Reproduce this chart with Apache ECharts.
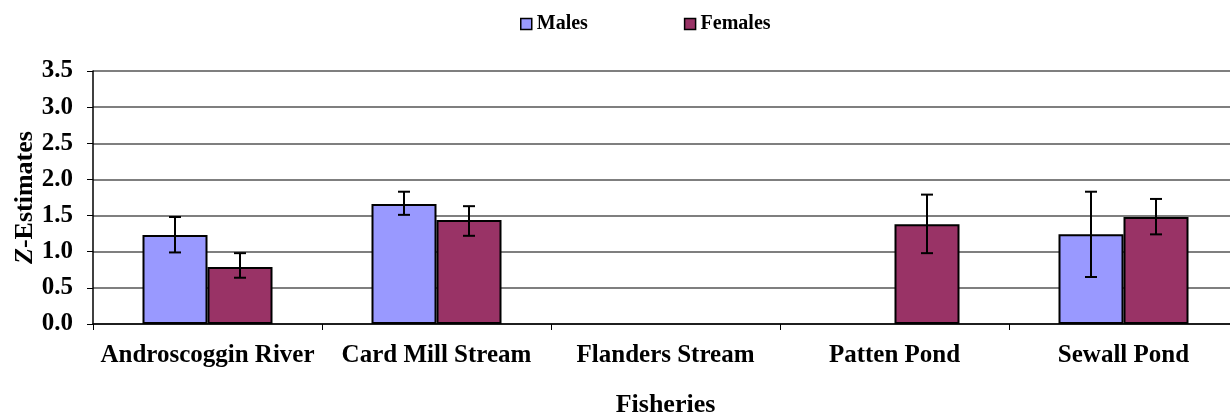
<!DOCTYPE html>
<html>
<head>
<meta charset="utf-8">
<script src="https://cdn.jsdelivr.net/npm/echarts@6/dist/echarts.min.js"></script>
<style>
  html, body { margin: 0; padding: 0; background: #fff; }
  #chart { width: 1230px; height: 413px; }
</style>
</head>
<body>
<div id="chart"></div>
<script>
const fisheries = ["Androscoggin River", "Card Mill Stream", "Flanders Stream", "Patten Pond", "Sewall Pond"];
const yTicks = [0, 0.5, 1, 1.5, 2, 2.5, 3, 3.5];

// mean Z-estimates (null = no estimate)
const males = [1.23, 1.66, null, null, 1.24];
const females = [0.79, 1.44, null, 1.38, 1.48];

// error bar limits
const malesLow = [0.99, 1.51, null, null, 0.65];
const malesHigh = [1.48, 1.83, null, null, 1.83];
const femalesLow = [0.64, 1.22, null, 0.98, 1.24];
const femalesHigh = [0.98, 1.63, null, 1.79, 1.73];

const font = "'Liberation Serif', 'DejaVu Serif', serif";
const barW = 65;

function errData(low, high) {
  const out = [];
  for (let i = 0; i < low.length; i++) {
    if (low[i] != null) out.push([i, low[i], high[i]]);
  }
  return out;
}

function errRender(offset) {
  return function (params, api) {
    const lo = api.coord([api.value(0), api.value(1)]);
    const hi = api.coord([api.value(0), api.value(2)]);
    const x = lo[0] + offset;
    const w = 6;
    const style = { stroke: "#000", lineWidth: 2 };
    return {
      type: "group",
      children: [
        { type: "line", shape: { x1: x, y1: lo[1], x2: x, y2: hi[1] }, style: style },
        { type: "line", shape: { x1: x - w, y1: lo[1], x2: x + w, y2: lo[1] }, style: style },
        { type: "line", shape: { x1: x - w, y1: hi[1], x2: x + w, y2: hi[1] }, style: style }
      ]
    };
  };
}

const myChart = echarts.init(document.getElementById("chart"));
const option = {
  animation: false,
  textStyle: { fontFamily: font },
  legend: {
    top: 9,
    left: 515,
    itemGap: 96,
    itemWidth: 11,
    itemHeight: 11,
    itemTextGap: 4,
    textStyle: { fontFamily: font, fontWeight: "bold", fontSize: 20, color: "#000" },
    data: [
      { name: "Males", icon: "rect", itemStyle: { borderColor: "#000", borderWidth: 1.5 } },
      { name: "Females", icon: "rect", itemStyle: { borderColor: "#000", borderWidth: 1.5 } }
    ]
  },
  grid: { left: 93, right: -8, top: 71, bottom: 89, outerBoundsMode: "none", containLabel: false },
  xAxis: {
    type: "category",
    data: fisheries,
    name: "Fisheries",
    nameLocation: "middle",
    nameGap: 68,
    nameMoveOverlap: false,
    nameTextStyle: { fontFamily: font, fontWeight: "bold", fontSize: 26, color: "#000" },
    axisLine: { lineStyle: { color: "#000", width: 1.5 } },
    axisTick: { show: true, interval: 0, length: 6, lineStyle: { color: "#000" } },
    axisLabel: { interval: 0, hideOverlap: false, margin: 19, fontFamily: font, fontWeight: "bold", fontSize: 25, color: "#000" }
  },
  yAxis: {
    type: "value",
    min: 0,
    max: 3.5,
    interval: 0.5,
    name: "{i|Z}-Estimates",
    nameLocation: "middle",
    nameRotate: 90,
    nameGap: 55,
    nameMoveOverlap: false,
    nameTextStyle: {
      fontFamily: font, fontWeight: "bold", fontSize: 26, color: "#000",
      rich: {
        i: { fontFamily: font, fontWeight: "bold", fontStyle: "italic", fontSize: 26, color: "#000" }
      }
    },
    axisLine: { show: true, lineStyle: { color: "#000", width: 1.5 } },
    axisTick: { show: true, length: 6, lineStyle: { color: "#000" } },
    axisLabel: {
      margin: 20, fontFamily: font, fontWeight: "bold", fontSize: 25, color: "#000",
      formatter: function (v) { return v.toFixed(1); }
    },
    splitLine: { lineStyle: { color: "#555", width: 1.5 } }
  },
  series: [
    {
      name: "Males",
      type: "bar",
      data: males,
      barWidth: barW,
      barGap: "0%",
      itemStyle: { color: "#9999FF", borderColor: "#000", borderWidth: 2 }
    },
    {
      name: "Females",
      type: "bar",
      data: females,
      barWidth: barW,
      barGap: "0%",
      itemStyle: { color: "#993366", borderColor: "#000", borderWidth: 2 }
    },
    {
      type: "custom",
      renderItem: errRender(-barW / 2),
      data: errData(malesLow, malesHigh),
      encode: { x: 0, y: [1, 2] },
      z: 10
    },
    {
      type: "custom",
      renderItem: errRender(barW / 2),
      data: errData(femalesLow, femalesHigh),
      encode: { x: 0, y: [1, 2] },
      z: 10
    }
  ]
};
option && myChart.setOption(option);
</script>
</body>
</html>
